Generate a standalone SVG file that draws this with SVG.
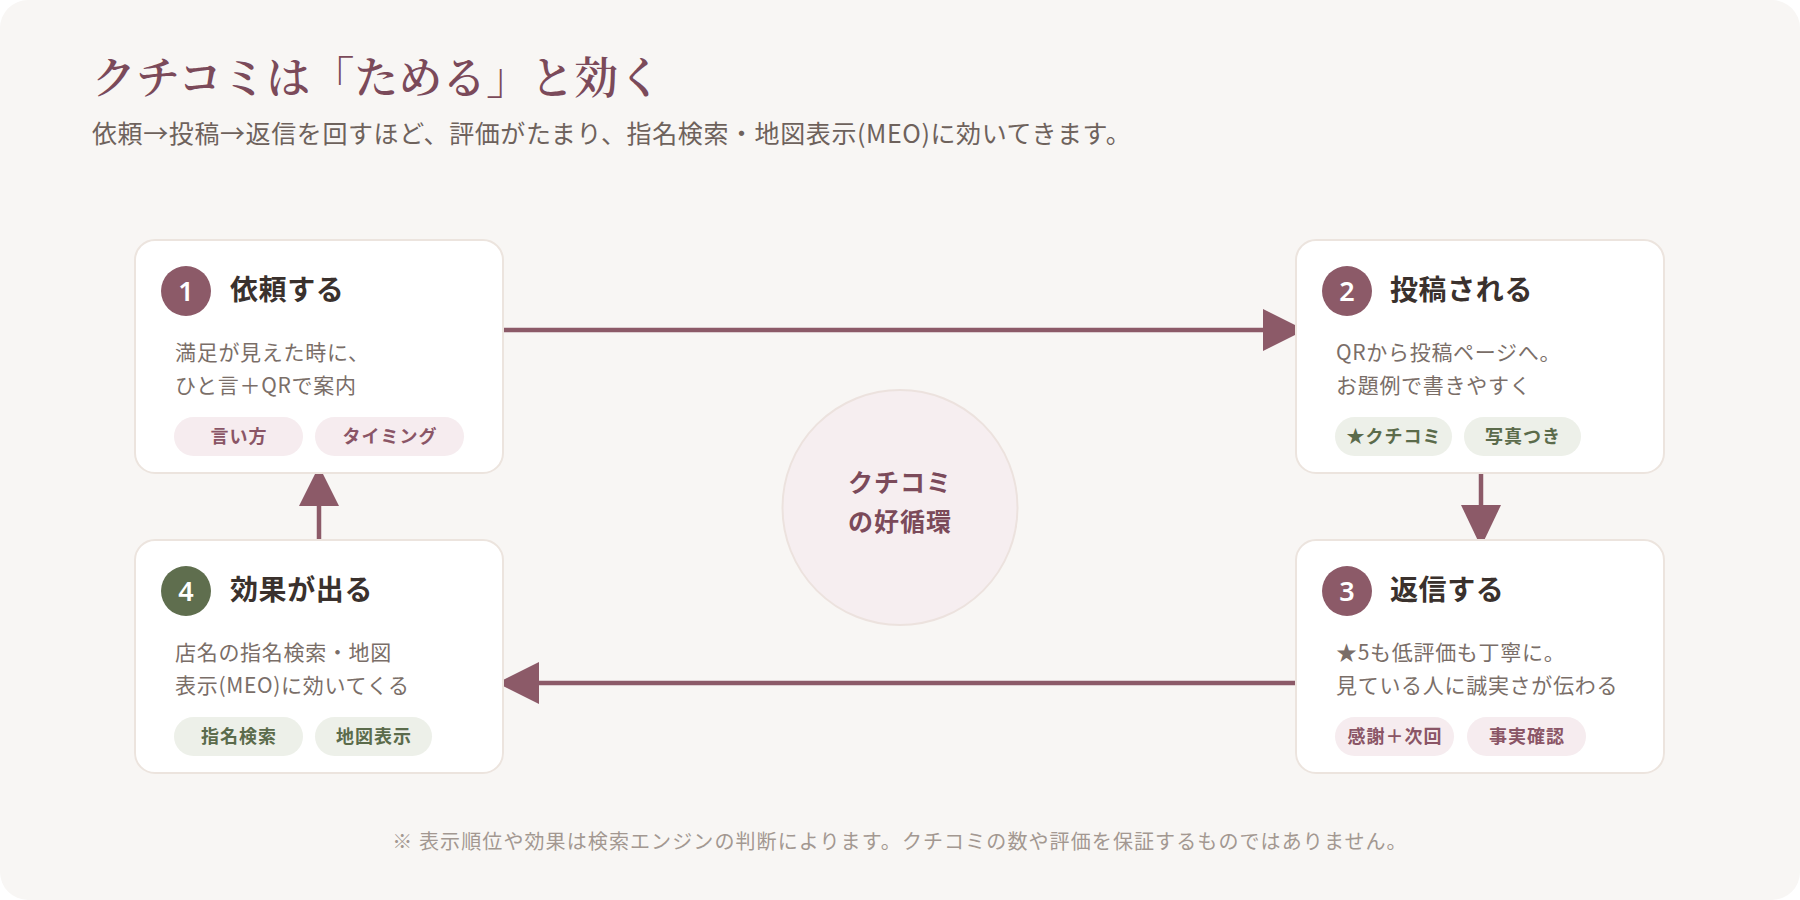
<svg xmlns="http://www.w3.org/2000/svg" width="1800" height="900" viewBox="0 0 1800 900">
<defs>
<style>
.jp{font-family:"Noto Sans CJK JP","Noto Sans",sans-serif}
.ttl{font-family:"Noto Serif CJK JP","Noto Sans CJK JP",serif;font-size:44px;font-weight:600;fill:#7b4a5a}
.sub{font-size:25px;letter-spacing:0.6px;fill:#6e625c}
.card{fill:#ffffff;stroke:#ece4de;stroke-width:2}
.badge-p{fill:#8c5a68}
.badge-g{fill:#5f6e4e}
.num{font-family:"Noto Sans","Noto Sans CJK JP",sans-serif;font-size:27px;font-weight:600;fill:#ffffff;text-anchor:middle}
.head{font-size:28px;font-weight:700;letter-spacing:0.6px;fill:#3a312d}
.body{font-size:21px;letter-spacing:0.7px;fill:#7a6e68}
.pill-p{fill:#f6ecef}
.pill-g{fill:#edf0e9}
.pt-p{font-size:18px;font-weight:700;letter-spacing:1px;fill:#8a5566;text-anchor:middle}
.pt-g{font-size:18px;font-weight:700;letter-spacing:1px;fill:#5b6b4b;text-anchor:middle}
.conn{stroke:#8c5a68;stroke-width:4.5;fill:none}
.head-a{fill:#8c5a68}
.note{font-size:20px;letter-spacing:1.1px;fill:#a39891;text-anchor:middle}
</style>
</defs>
<rect x="0" y="0" width="1800" height="900" fill="#ffffff"/>
<rect x="0" y="0" width="1800" height="900" rx="28" fill="#f8f6f4"/>
<text class="ttl" x="92" y="94">クチコミは「ためる」と効く</text>
<text class="jp sub" x="92" y="143">依頼→投稿→返信を回すほど、評価がたまり、指名検索・地図表示(MEO)に効いてきます。</text>

<g id="connectors">
<line class="conn" x1="504" y1="330" x2="1266" y2="330"/>
<polygon class="head-a" points="1305,330 1263,309 1263,351"/>
<line class="conn" x1="1481" y1="473" x2="1481" y2="508"/>
<polygon class="head-a" points="1481,547 1461,505 1501,505"/>
<line class="conn" x1="1296" y1="683" x2="536" y2="683"/>
<polygon class="head-a" points="497,683 539,662 539,704"/>
<line class="conn" x1="319" y1="540" x2="319" y2="503"/>
<polygon class="head-a" points="319,466 299,506 339,506"/>
</g>

<g id="center">
<circle cx="900" cy="507.5" r="117.5" fill="#f6eef0" stroke="#ece2de" stroke-width="2"/>
<text class="jp" x="900" y="492" font-size="25" font-weight="700" letter-spacing="1" fill="#7b4a5a" text-anchor="middle">クチコミ</text>
<text class="jp" x="900" y="531" font-size="25" font-weight="700" letter-spacing="1" fill="#7b4a5a" text-anchor="middle">の好循環</text>
</g>

<g id="node1">
<rect class="card" x="135" y="240" width="368" height="233" rx="20"/>
<circle class="badge-p" cx="186" cy="291" r="25"/>
<text class="num" x="186" y="301">1</text>
<text class="jp head" x="230" y="300">依頼する</text>
<text class="jp body" x="175" y="360">満足が見えた時に、</text>
<text class="jp body" x="175" y="393">ひと言＋QRで案内</text>
<rect class="pill-p" x="174" y="417" width="129" height="39" rx="19.5"/>
<text class="jp pt-p" x="239" y="443">言い方</text>
<rect class="pill-p" x="315" y="417" width="149" height="39" rx="19.5"/>
<text class="jp pt-p" x="390" y="443">タイミング</text>
</g>

<g id="node2">
<rect class="card" x="1296" y="240" width="368" height="233" rx="20"/>
<circle class="badge-p" cx="1347" cy="291" r="25"/>
<text class="num" x="1347" y="301">2</text>
<text class="jp head" x="1390" y="300">投稿される</text>
<text class="jp body" x="1336" y="360">QRから投稿ページへ。</text>
<text class="jp body" x="1336" y="393">お題例で書きやすく</text>
<rect class="pill-g" x="1335" y="417" width="117" height="39" rx="19.5"/>
<text class="jp pt-g" x="1394" y="443">★クチコミ</text>
<rect class="pill-g" x="1464" y="417" width="117" height="39" rx="19.5"/>
<text class="jp pt-g" x="1523" y="443">写真つき</text>
</g>

<g id="node3">
<rect class="card" x="1296" y="540" width="368" height="233" rx="20"/>
<circle class="badge-p" cx="1347" cy="591" r="25"/>
<text class="num" x="1347" y="601">3</text>
<text class="jp head" x="1390" y="600">返信する</text>
<text class="jp body" x="1336" y="660">★5も低評価も丁寧に。</text>
<text class="jp body" x="1336" y="693">見ている人に誠実さが伝わる</text>
<rect class="pill-p" x="1335" y="717" width="119" height="39" rx="19.5"/>
<text class="jp pt-p" x="1395" y="743">感謝＋次回</text>
<rect class="pill-p" x="1467" y="717" width="119" height="39" rx="19.5"/>
<text class="jp pt-p" x="1527" y="743">事実確認</text>
</g>

<g id="node4">
<rect class="card" x="135" y="540" width="368" height="233" rx="20"/>
<circle class="badge-g" cx="186" cy="591" r="25"/>
<text class="num" x="186" y="601">4</text>
<text class="jp head" x="230" y="600">効果が出る</text>
<text class="jp body" x="175" y="660">店名の指名検索・地図</text>
<text class="jp body" x="175" y="693">表示(MEO)に効いてくる</text>
<rect class="pill-g" x="174" y="717" width="129" height="39" rx="19.5"/>
<text class="jp pt-g" x="239" y="743">指名検索</text>
<rect class="pill-g" x="315" y="717" width="117" height="39" rx="19.5"/>
<text class="jp pt-g" x="374" y="743">地図表示</text>
</g>

<text class="jp note" x="900" y="849">※ 表示順位や効果は検索エンジンの判断によります。クチコミの数や評価を保証するものではありません。</text>
</svg>
